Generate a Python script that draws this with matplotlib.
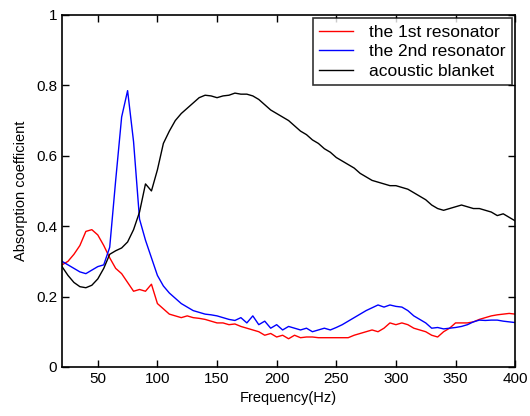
import numpy as np
import matplotlib
matplotlib.use("Agg")
import matplotlib.pyplot as plt

plt.rcParams['font.family'] = ['Liberation Sans', 'DejaVu Sans']

# --- Data (5 Hz step, 20..400 Hz) ---
freq = np.arange(20, 405, 5)

resonator_1 = [
    0.29, 0.30, 0.32, 0.345, 0.385, 0.39, 0.375, 0.345, 0.31, 0.28,
    0.265, 0.24, 0.215, 0.22, 0.215, 0.235, 0.18, 0.165, 0.15, 0.145,
    0.14, 0.145, 0.14, 0.138, 0.135, 0.13, 0.125, 0.125, 0.12, 0.122,
    0.115, 0.11, 0.105, 0.10, 0.09, 0.095, 0.085, 0.09, 0.08, 0.09,
    0.083, 0.085, 0.085, 0.083, 0.083, 0.083, 0.083, 0.083, 0.083, 0.09,
    0.095, 0.10, 0.105, 0.10, 0.11, 0.125, 0.12, 0.125, 0.12, 0.11,
    0.105, 0.10, 0.09, 0.085, 0.10, 0.11, 0.125, 0.125, 0.125, 0.128,
    0.135, 0.14, 0.145, 0.148, 0.15, 0.152, 0.15,
]

resonator_2 = [
    0.30, 0.29, 0.28, 0.27, 0.265, 0.275, 0.285, 0.29, 0.34, 0.53,
    0.71, 0.785, 0.64, 0.42, 0.36, 0.31, 0.26, 0.23, 0.21, 0.195,
    0.18, 0.17, 0.16, 0.155, 0.15, 0.148, 0.145, 0.14, 0.135, 0.132,
    0.14, 0.125, 0.145, 0.12, 0.13, 0.11, 0.12, 0.105, 0.115, 0.11,
    0.105, 0.11, 0.10, 0.105, 0.11, 0.105, 0.112, 0.12, 0.13, 0.14,
    0.15, 0.16, 0.168, 0.176, 0.17, 0.176, 0.172, 0.17, 0.16, 0.145,
    0.135, 0.125, 0.11, 0.112, 0.108, 0.11, 0.112, 0.115, 0.12, 0.128,
    0.133, 0.132, 0.133, 0.133, 0.13, 0.128, 0.126,
]

blanket = [
    0.285, 0.26, 0.24, 0.228, 0.225, 0.232, 0.25, 0.28, 0.32, 0.33,
    0.338, 0.355, 0.39, 0.44, 0.52, 0.50, 0.56, 0.635, 0.67, 0.70,
    0.72, 0.735, 0.75, 0.765, 0.772, 0.77, 0.765, 0.77, 0.772, 0.778,
    0.775, 0.775, 0.77, 0.76, 0.745, 0.73, 0.72, 0.71, 0.70, 0.685,
    0.67, 0.66, 0.645, 0.635, 0.62, 0.61, 0.595, 0.585, 0.575, 0.565,
    0.55, 0.54, 0.53, 0.525, 0.52, 0.515, 0.515, 0.51, 0.505, 0.495,
    0.485, 0.475, 0.46, 0.45, 0.445, 0.45, 0.455, 0.46, 0.455, 0.45,
    0.45, 0.445, 0.44, 0.43, 0.435, 0.425, 0.415,
]

labels = ["the 1st resonator", "the 2nd resonator", "acoustic blanket"]
x_ticks = [50, 100, 150, 200, 250, 300, 350, 400]
y_ticks = [0, 0.2, 0.4, 0.6, 0.8, 1]
y_ticklabels = ["0", "0.2", "0.4", "0.6", "0.8", "1"]

# --- Plot ---
fig = plt.figure(figsize=(5.3, 4.16), dpi=100)
ax = fig.add_axes([0.117, 0.118, 0.855, 0.846])

ax.plot(freq, resonator_1, color='red', linewidth=1.0, label=labels[0])
ax.plot(freq, resonator_2, color='blue', linewidth=1.0, label=labels[1])
ax.plot(freq, blanket, color='black', linewidth=1.0, label=labels[2])

ax.set_xlim(20, 400)
ax.set_ylim(0, 1)
ax.set_xticks(x_ticks)
ax.set_yticks(y_ticks)
ax.set_yticklabels(y_ticklabels)
ax.tick_params(direction='in', top=True, right=True, length=5, width=1,
               labelsize=11)
for sp in ax.spines.values():
    sp.set_linewidth(1.2)

ax.set_xlabel("Frequency(Hz)", fontsize=10.5, labelpad=4)
ax.set_ylabel("Absorption coefficient", fontsize=10.5, labelpad=6)

leg = ax.legend(loc='upper right', fontsize=12.5, frameon=True, fancybox=False,
                edgecolor='black', handlelength=2.0, borderaxespad=0.2,
                labelspacing=0.25, borderpad=0.35, handletextpad=0.9)
leg.get_frame().set_linewidth(1.2)

fig.savefig("out.png", dpi=100)
